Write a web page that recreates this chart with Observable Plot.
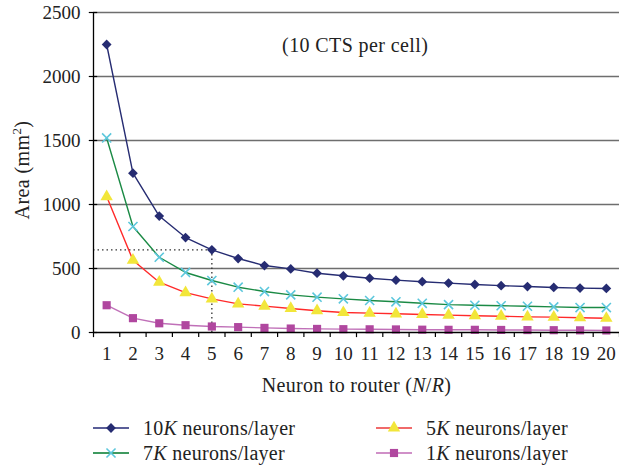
<!DOCTYPE html>
<html>
<head>
<meta charset="utf-8">
<script src="https://cdn.jsdelivr.net/npm/d3@7"></script>
<script src="https://cdn.jsdelivr.net/npm/@observablehq/plot@0.6"></script>
<style>
  html, body { margin: 0; padding: 0; background: #fff; }
  #wrap { position: relative; width: 619px; height: 467px; font-family: "Liberation Serif", serif; color: #222; }
  #legend { position: absolute; left: 0; top: 0; width: 619px; height: 467px; pointer-events: none; }
  .item { position: absolute; display: flex; align-items: center; font-size: 20px; letter-spacing: 0.3px; white-space: nowrap; }
  .item svg { margin-right: 14px; }
</style>
</head>
<body>
<div id="wrap"><div id="chart"></div><div id="legend"></div></div>
<script>
const ratio = d3.range(1, 21);
const area10K = [2250,1245,910,742,646,578,523,497,463,443,424,409,397,386,375,366,359,352,347,344];
const area7K  = [1520,828,588,469,406,354,320,294,276,263,250,240,228,218,213,209,205,200,195,195];
const area5K  = [1062,565,393,312,263,224,206,188,170,156,151,146,141,136,131,127,122,120,115,111];
const area1K  = [213,112,72,57,47,42,36,31,28,26,25,24,22,21,21,20,19,18,17,16];
const yTicks = [0, 500, 1000, 1500, 2000, 2500];
const seriesNames = ["10K", "7K", "5K", "1K"];
const seriesValues = [area10K, area7K, area5K, area1K];
const styles = {
  "10K": {line: "#262c72", legendLine: "#5a5e98", fill: "#262c72", stroke: "none", symbol: "diamond2", r: 4.4},
  "7K":  {line: "#1b8a45", legendLine: "#3f9a60", fill: "none", stroke: "#5cc7dc", symbol: "times", r: 4.2},
  "5K":  {line: "#ff2a2a", legendLine: "#f06a6a", fill: "#f2e63a", stroke: "none", symbol: "triangle", r: 4.6},
  "1K":  {line: "#c070b8", legendLine: "#d090c8", fill: "#b0479f", stroke: "none", symbol: "square", r: 4.6}
};
const symbolTypes = {diamond2: d3.symbolDiamond2, times: d3.symbolTimes, triangle: d3.symbolTriangle, square: d3.symbolSquare};
const rows = seriesNames.flatMap((s, i) => ratio.map((n, j) => ({series: s, n, area: seriesValues[i][j]})));
const refN = 5, refArea = area10K[4];

const marks = [
  Plot.ruleY(yTicks.filter(d => d > 0), {stroke: "#6e6e6e", strokeWidth: 1.6}),
  Plot.ruleY([refArea], {x1: 0.5, x2: refN, stroke: "#333", strokeDasharray: "1.5,3", strokeWidth: 1.3}),
  Plot.ruleX([refN], {y1: 0, y2: refArea, stroke: "#333", strokeDasharray: "1.5,3", strokeWidth: 1.3}),
];
for (const s of seriesNames) {
  const st = styles[s];
  const data = rows.filter(d => d.series === s);
  marks.push(Plot.line(data, {x: "n", y: "area", stroke: st.line, strokeWidth: 1.4}));
}
for (const s of seriesNames) {
  const st = styles[s];
  const data = rows.filter(d => d.series === s);
  marks.push(Plot.dot(data, {x: "n", y: "area", symbol: st.symbol, r: st.r, fill: st.fill, stroke: st.stroke, strokeWidth: st.symbol === "times" ? 1.6 : 0}));
}
marks.push(
  Plot.ruleY([0], {stroke: "#000", strokeWidth: 1.3}),
  Plot.ruleX([0.5], {stroke: "#000", strokeWidth: 1.3}),
  Plot.ruleX(d3.range(0.5, 21, 1), {y1: 0, y2: -40, stroke: "#000", strokeWidth: 1.2}),
  Plot.ruleY(yTicks, {x1: 0.34, x2: 0.66, stroke: "#000", strokeWidth: 1.2}),
  Plot.text(["(10 CTS per cell)"], {x: 10.45, y: 2240, fontSize: 20, fill: "#222"}),
  Plot.axisY({ticks: yTicks, tickSize: 0, tickPadding: 13, fontSize: 19, label: null, tickFormat: d => String(d)}),
  Plot.axisX({ticks: ratio, tickSize: 0, tickPadding: 14, fontSize: 19, label: null}),
  Plot.text(["Neuron to router (N/R)"], {frameAnchor: "bottom", dy: 59, fontSize: 20, fill: "#222"})
);

const plot = Plot.plot({
  width: 619,
  height: 400,
  marginTop: 12,
  marginLeft: 93,
  marginRight: 0,
  marginBottom: 68,
  style: {fontFamily: "Liberation Serif, serif", color: "#222", background: "#fff", overflow: "visible"},
  x: {type: "linear", domain: [0.5, 20.5]},
  y: {domain: [0, 2500]},
  marks
});
document.getElementById("chart").appendChild(plot);

// letter spacing on annotation; italic N/R in x label
const texts = Array.from(plot.querySelectorAll("text"));
const ann = texts.find(t => t.textContent === "(10 CTS per cell)");
if (ann) ann.setAttribute("letter-spacing", "0.4");
const xl = texts.find(t => t.textContent === "Neuron to router (N/R)");
if (xl) { xl.innerHTML = 'Neuron to router (<tspan font-style="italic">N</tspan>/<tspan font-style="italic">R</tspan>)'; xl.setAttribute("letter-spacing", "0.3"); }

const yl = document.createElementNS("http://www.w3.org/2000/svg", "text");
yl.setAttribute("transform", "translate(29,170) rotate(-90)");
yl.setAttribute("text-anchor", "middle");
yl.setAttribute("font-size", "20");
yl.setAttribute("letter-spacing", "0.4");
yl.setAttribute("fill", "#222");
yl.innerHTML = 'Area (mm<tspan dy="-8" font-size="13">2</tspan><tspan dy="8">)</tspan>';
plot.appendChild(yl);

// legend
const legendPos = {"10K": [93, 428], "7K": [93, 453], "5K": [376, 428], "1K": [376, 453]};
const leg = document.getElementById("legend");
for (const s of seriesNames) {
  const st = styles[s];
  const [lx, ly] = legendPos[s];
  const div = document.createElement("div");
  div.className = "item";
  div.style.left = lx + "px";
  div.style.top = (ly - 12) + "px";
  const sym = d3.symbol(symbolTypes[st.symbol], Math.PI * st.r * st.r)();
  div.innerHTML = `<svg width="36" height="24"><line x1="0" x2="36" y1="12" y2="12" stroke="${st.legendLine}" stroke-width="1.8"/><path transform="translate(18,12)" d="${sym}" fill="${st.fill}" stroke="${st.stroke}" stroke-width="${st.symbol === 'times' ? 1.6 : 0}"/></svg><span>${s.replace("K", "<i>K</i>")} neurons/layer</span>`;
  leg.appendChild(div);
}
</script>
</body>
</html>
